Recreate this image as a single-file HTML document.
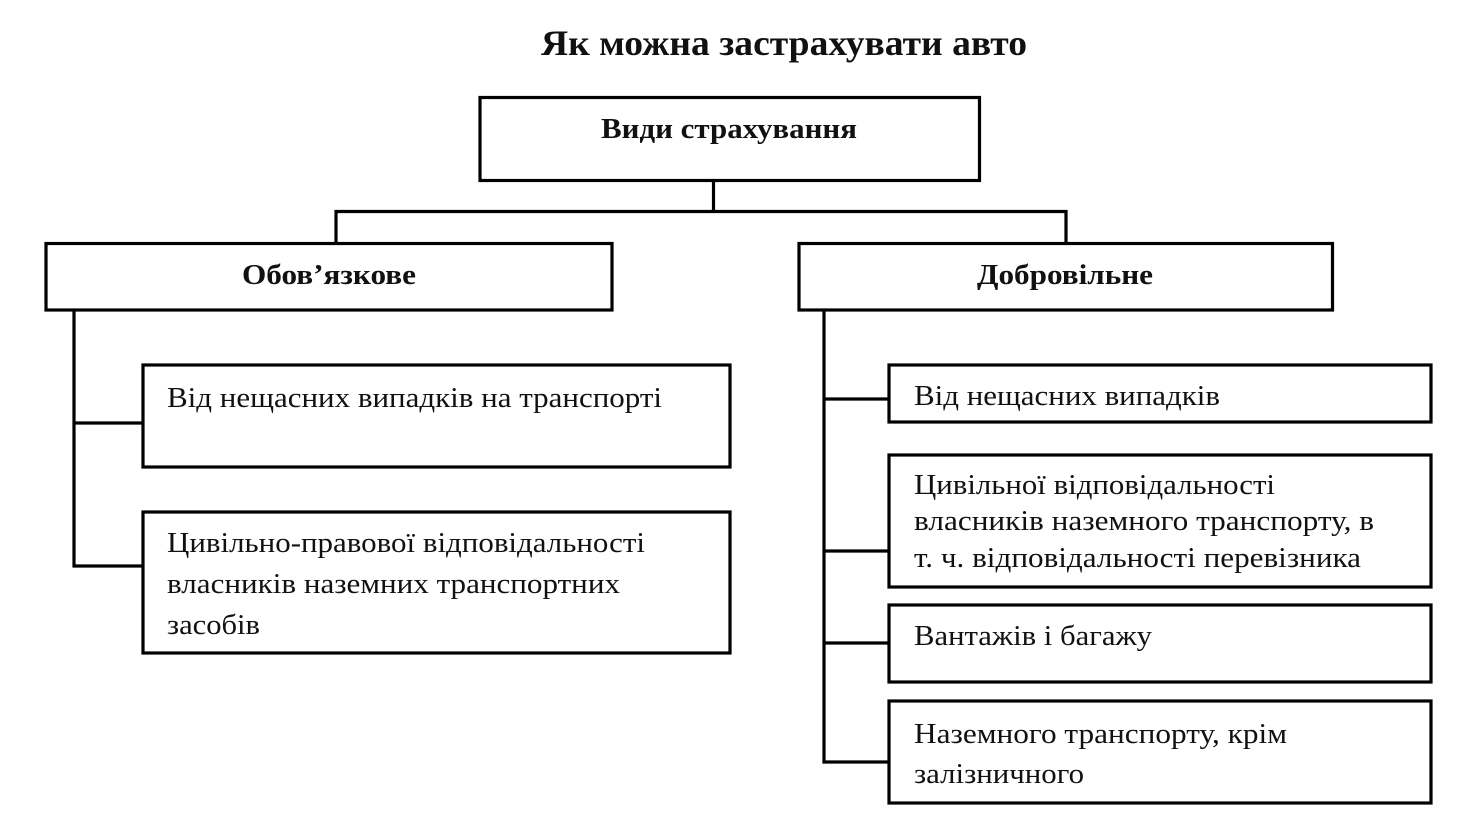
<!DOCTYPE html>
<html>
<head>
<meta charset="utf-8">
<style>
  html,body{margin:0;padding:0;background:#fff;}
  svg{display:block;}
  text{font-family:"Liberation Serif","Noto Serif CJK SC",serif;fill:#111;}
  .b{font-weight:bold;}
</style>
</head>
<body>
<svg width="1478" height="832" viewBox="0 0 1478 832" xmlns="http://www.w3.org/2000/svg">
  <rect width="1478" height="832" fill="#fff"/>
  <g fill="none" stroke="#000" stroke-width="3.2">
    <!-- top box -->
    <rect x="480" y="97.5" width="499.5" height="83"/>
    <!-- connectors top -->
    <line x1="713.5" y1="180" x2="713.5" y2="211.5"/>
    <line x1="334.5" y1="211.5" x2="1067.5" y2="211.5"/>
    <line x1="336" y1="210" x2="336" y2="243.5"/>
    <line x1="1066" y1="210" x2="1066" y2="243.5"/>
    <!-- level 2 boxes -->
    <rect x="46" y="243.5" width="566" height="66.5"/>
    <rect x="799" y="243.5" width="533.5" height="66.5"/>
    <!-- left tree -->
    <line x1="74" y1="310" x2="74" y2="567.5"/>
    <line x1="72.5" y1="423" x2="143" y2="423"/>
    <line x1="72.5" y1="566" x2="143" y2="566"/>
    <rect x="143" y="365" width="587" height="102"/>
    <rect x="143" y="512" width="587" height="141"/>
    <!-- right tree -->
    <line x1="824" y1="310" x2="824" y2="763.5"/>
    <line x1="822.5" y1="399" x2="889" y2="399"/>
    <line x1="822.5" y1="551" x2="889" y2="551"/>
    <line x1="822.5" y1="643" x2="889" y2="643"/>
    <line x1="822.5" y1="762" x2="889" y2="762"/>
    <rect x="889" y="365" width="542" height="57"/>
    <rect x="889" y="455" width="542" height="132"/>
    <rect x="889" y="605" width="542" height="77"/>
    <rect x="889" y="701" width="542" height="102"/>
  </g>

  <text class="b" x="541" y="55" font-size="36" textLength="486" lengthAdjust="spacingAndGlyphs">Як можна застрахувати авто</text>
  <text class="b" x="601" y="138" font-size="29" textLength="256" lengthAdjust="spacingAndGlyphs">Види страхування</text>
  <text class="b" x="242" y="284" font-size="29" textLength="174" lengthAdjust="spacingAndGlyphs">Обов’язкове</text>
  <text class="b" x="977" y="284" font-size="29" textLength="176" lengthAdjust="spacingAndGlyphs">Добровільне</text>

  <g font-size="29">
    <text x="167" y="407" textLength="495" lengthAdjust="spacingAndGlyphs">Від нещасних випадків на транспорті</text>

    <text x="167" y="552" textLength="478" lengthAdjust="spacingAndGlyphs">Цивільно-правової відповідальності</text>
    <text x="167" y="593" textLength="453" lengthAdjust="spacingAndGlyphs">власників наземних транспортних</text>
    <text x="167" y="634" textLength="93" lengthAdjust="spacingAndGlyphs">засобів</text>

    <text x="914" y="405" textLength="306" lengthAdjust="spacingAndGlyphs">Від нещасних випадків</text>

    <text x="914" y="494" textLength="361" lengthAdjust="spacingAndGlyphs">Цивільної відповідальності</text>
    <text x="914" y="530" textLength="460" lengthAdjust="spacingAndGlyphs">власників наземного транспорту, в</text>
    <text x="914" y="567" textLength="447" lengthAdjust="spacingAndGlyphs">т. ч. відповідальності перевізника</text>

    <text x="914" y="645" textLength="238" lengthAdjust="spacingAndGlyphs">Вантажів і багажу</text>

    <text x="914" y="743" textLength="373" lengthAdjust="spacingAndGlyphs">Наземного транспорту, крім</text>
    <text x="914" y="783" textLength="170" lengthAdjust="spacingAndGlyphs">залізничного</text>
  </g>
</svg>
</body>
</html>
